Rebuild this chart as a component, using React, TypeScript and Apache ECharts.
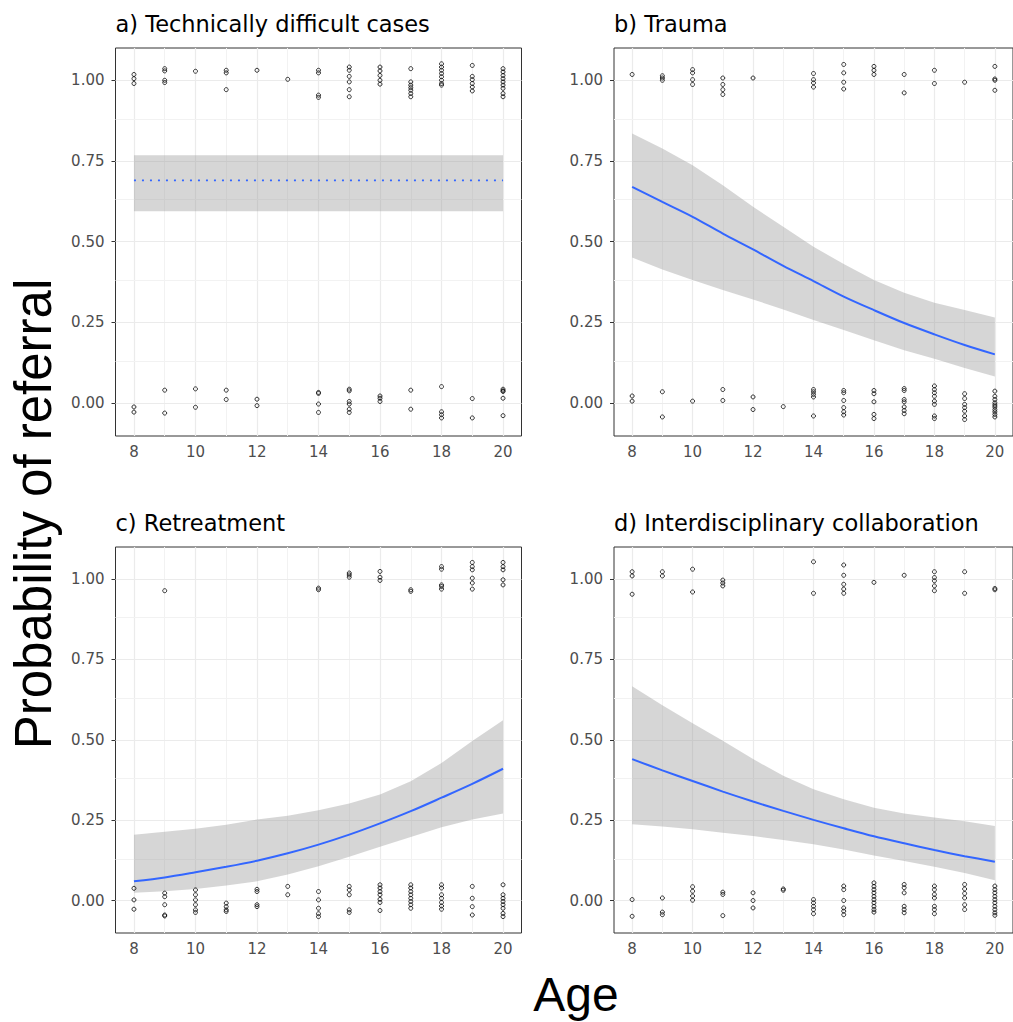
import React, { useEffect, useRef } from "react";
import * as echarts from "echarts";

// ---------- data ----------
const AGES = [8, 9, 10, 11, 12, 13, 14, 15, 16, 17, 18, 19, 20];
const AGES_A = [8, 20];
const X_TICKS = [8, 10, 12, 14, 16, 18, 20];
const X_MINOR = [9, 11, 13, 15, 17, 19];
const Y_TICKS = [0, 0.25, 0.5, 0.75, 1];
const Y_MINOR = [0.125, 0.375, 0.625, 0.875];

const TITLES = [
  "a) Technically difficult cases",
  "b) Trauma",
  "c) Retreatment",
  "d) Interdisciplinary collaboration",
];
const X_TITLE = "Age";
const Y_TITLE = "Probability of referral";

// fitted probability and 95% band
const FIT_A = [0.69, 0.69];
const UPPER_A = [0.768, 0.768];
const LOWER_A = [0.594, 0.594];

const FIT_B = [0.67, 0.623, 0.577, 0.525, 0.476, 0.425, 0.378, 0.33, 0.288, 0.248, 0.213, 0.18, 0.151];
const UPPER_B = [0.835, 0.789, 0.737, 0.675, 0.608, 0.546, 0.484, 0.431, 0.381, 0.342, 0.311, 0.288, 0.265];
const LOWER_B = [0.451, 0.414, 0.381, 0.35, 0.321, 0.29, 0.257, 0.226, 0.195, 0.164, 0.137, 0.109, 0.082];

const FIT_C = [0.06, 0.072, 0.088, 0.105, 0.124, 0.147, 0.174, 0.205, 0.24, 0.278, 0.32, 0.363, 0.41];
const UPPER_C = [0.205, 0.214, 0.223, 0.236, 0.252, 0.264, 0.281, 0.302, 0.33, 0.371, 0.428, 0.496, 0.561];
const LOWER_C = [0.024, 0.029, 0.036, 0.047, 0.06, 0.081, 0.107, 0.136, 0.167, 0.198, 0.228, 0.252, 0.271];

const FIT_D = [0.44, 0.405, 0.372, 0.339, 0.308, 0.279, 0.251, 0.225, 0.2, 0.178, 0.157, 0.138, 0.121];
const UPPER_D = [0.667, 0.608, 0.552, 0.497, 0.44, 0.388, 0.346, 0.315, 0.289, 0.271, 0.258, 0.247, 0.232];
const LOWER_D = [0.237, 0.23, 0.222, 0.211, 0.201, 0.188, 0.175, 0.159, 0.14, 0.123, 0.105, 0.086, 0.063];

// jittered observations: [age, [y values]]
const POINTS_A: [number, number[]][] = [
  [8, [1.018, 1.005, 0.99, -0.012, -0.028]],
  [9, [1.036, 1.029, 1.0, 0.993, 0.04, -0.031]],
  [10, [1.028, 0.044, -0.013]],
  [11, [1.031, 1.023, 0.971, 0.04, 0.011]],
  [12, [1.031, 0.012, -0.008]],
  [13, [1.003]],
  [14, [1.031, 1.023, 0.954, 0.947, 0.033, 0.03, -0.003, -0.029]],
  [15, [1.041, 1.031, 1.012, 0.995, 0.971, 0.949, 0.043, 0.038, 0.005, -0.003, -0.019, -0.029]],
  [16, [1.041, 1.029, 1.015, 1.0, 0.988, 0.022, 0.015, 0.005]],
  [17, [1.036, 0.995, 0.985, 0.977, 0.969, 0.959, 0.949, 0.04, -0.019]],
  [18, [1.051, 1.041, 1.031, 1.021, 1.011, 1.0, 0.99, 0.985, 0.051, -0.027, -0.036, -0.046]],
  [19, [1.046, 1.012, 1.002, 0.99, 0.979, 0.967, 0.014, -0.046]],
  [20, [1.036, 1.026, 1.015, 1.005, 0.995, 0.985, 0.975, 0.959, 0.949, 0.043, 0.038, 0.036, 0.015, -0.039]],
];
const POINTS_B: [number, number[]][] = [
  [8, [1.018, 0.022, 0.006]],
  [9, [1.014, 1.007, 1.0, 0.035, -0.043]],
  [10, [1.033, 1.023, 1.002, 0.987, 0.006]],
  [11, [1.007, 0.987, 0.971, 0.956, 0.042, 0.008]],
  [12, [1.007, 0.019, -0.02]],
  [13, [-0.011]],
  [14, [1.021, 1.002, 0.992, 0.979, 0.042, 0.035, 0.027, 0.019, -0.04]],
  [15, [1.049, 1.023, 0.994, 0.973, 0.039, 0.032, 0.008, -0.014, -0.027, -0.037]],
  [16, [1.043, 1.031, 1.018, 0.039, 0.029, 0.004, -0.035, -0.048]],
  [17, [1.018, 0.961, 0.045, 0.039, 0.011, 0.004, -0.012, -0.023, -0.033]],
  [18, [1.031, 0.99, 0.053, 0.042, 0.032, 0.021, 0.006, -0.004, -0.04, -0.048]],
  [19, [0.994, 0.029, 0.014, -0.004, -0.014, -0.025, -0.04, -0.051]],
  [20, [1.043, 1.004, 1.0, 0.969, 0.037, 0.021, 0.011, 0.001, -0.006, -0.012, -0.02, -0.027, -0.035, -0.043]],
];
const POINTS_C: [number, number[]][] = [
  [8, [0.038, 0.002, -0.027]],
  [9, [0.964, 0.023, 0.012, -0.013, -0.045, -0.048]],
  [10, [0.033, 0.018, 0.002, -0.013, -0.029, -0.037]],
  [11, [-0.008, -0.019, -0.029, -0.034]],
  [12, [0.035, 0.028, -0.013, -0.019]],
  [13, [0.044, 0.018]],
  [14, [0.972, 0.967, 0.028, 0.002, -0.024, -0.041, -0.05]],
  [15, [1.019, 1.013, 1.006, 0.044, 0.033, 0.018, -0.029, -0.037]],
  [16, [1.024, 1.006, 0.996, 0.049, 0.039, 0.028, 0.018, 0.004, -0.006, -0.031]],
  [17, [0.967, 0.962, 0.049, 0.039, 0.028, 0.018, 0.007, -0.003, -0.013, -0.024]],
  [18, [1.039, 1.031, 0.982, 0.977, 0.969, 0.049, 0.039, 0.018, 0.007, -0.006, -0.017, -0.027]],
  [19, [1.052, 1.039, 1.029, 1.003, 0.988, 0.969, 0.044, 0.007, -0.019, -0.045]],
  [20, [1.052, 1.039, 1.029, 0.998, 0.982, 0.049, 0.018, 0.007, -0.003, -0.013, -0.024, -0.04, -0.05]],
];
const POINTS_D: [number, number[]][] = [
  [8, [1.023, 1.01, 0.953, 0.003, -0.049]],
  [9, [1.023, 1.01, 0.008, -0.036, -0.044]],
  [10, [1.031, 0.96, 0.043, 0.029, 0.014, 0.001]],
  [11, [0.997, 0.988, 0.979, 0.026, 0.019, -0.047]],
  [12, [0.024, 0.0, -0.023]],
  [13, [0.036, 0.032]],
  [14, [1.054, 0.956, 0.003, -0.007, -0.018, -0.028, -0.041]],
  [15, [1.044, 1.012, 0.984, 0.969, 0.956, 0.045, 0.034, 0.0, -0.023, -0.033, -0.044]],
  [16, [0.99, 0.055, 0.044, 0.034, 0.024, 0.013, 0.003, -0.007, -0.018, -0.028, -0.036]],
  [17, [1.012, 0.05, 0.04, 0.024, -0.018, -0.028, -0.038]],
  [18, [1.023, 1.005, 0.995, 0.979, 0.964, 0.045, 0.034, 0.019, 0.008, -0.018, -0.028, -0.041]],
  [19, [1.023, 0.956, 0.05, 0.036, 0.022, 0.008, -0.013, -0.028]],
  [20, [0.971, 0.967, 0.045, 0.034, 0.024, 0.013, 0.003, -0.007, -0.018, -0.028, -0.038, -0.046]],
];

// ---------- layout / style ----------
const SMALL_FONT = "DejaVu Sans";
const BIG_FONT = "Liberation Sans";
const BLUE = "#3366FF";

const PANELS = [
  { grid: { left: 115.5, top: 48, width: 406, height: 388 }, yMin: -0.102, yMax: 1.1, ages: AGES_A, fit: FIT_A, upper: UPPER_A, lower: LOWER_A, points: POINTS_A, dotted: true },
  { grid: { left: 614, top: 48, width: 407, height: 388 }, yMin: -0.102, yMax: 1.1, ages: AGES, fit: FIT_B, upper: UPPER_B, lower: LOWER_B, points: POINTS_B, dotted: false },
  { grid: { left: 115.5, top: 547, width: 406, height: 386 }, yMin: -0.101, yMax: 1.1, ages: AGES, fit: FIT_C, upper: UPPER_C, lower: LOWER_C, points: POINTS_C, dotted: false },
  { grid: { left: 614, top: 547, width: 407, height: 386 }, yMin: -0.101, yMax: 1.1, ages: AGES, fit: FIT_D, upper: UPPER_D, lower: LOWER_D, points: POINTS_D, dotted: false },
];

function buildOption() {
  const grids = PANELS.map((p) => ({
    ...p.grid,
    show: true,
    borderColor: "#333333",
    borderWidth: 1,
    backgroundColor: "transparent",
    containLabel: false,
  }));

  const tickStyle = { show: true, length: 4, lineStyle: { color: "#333333", width: 1 } };
  const labelStyle = { color: "#4d4d4d", fontFamily: SMALL_FONT, fontSize: 15 };

  const xAxes = PANELS.map((_, i) => ({
    type: "value",
    gridIndex: i,
    min: 7.4,
    max: 20.6,
    axisLine: { show: false },
    splitLine: { show: false },
    axisTick: { ...tickStyle, customValues: X_TICKS },
    axisLabel: { ...labelStyle, margin: 8, customValues: X_TICKS, formatter: (v: number) => String(v) },
  }));
  const yAxes = PANELS.map((p, i) => ({
    type: "value",
    gridIndex: i,
    min: p.yMin,
    max: p.yMax,
    axisLine: { show: false },
    splitLine: { show: false },
    axisTick: { ...tickStyle, customValues: Y_TICKS },
    axisLabel: { ...labelStyle, margin: 11, customValues: Y_TICKS, formatter: (v: number) => v.toFixed(2) },
  }));

  const gridLineData = [
    ...X_TICKS.map((v) => ({ xAxis: v, lineStyle: { color: "#ebebeb", width: 1.2, type: "solid" } })),
    ...X_MINOR.map((v) => ({ xAxis: v, lineStyle: { color: "#f2f2f2", width: 1, type: "solid" } })),
    ...Y_TICKS.map((v) => ({ yAxis: v, lineStyle: { color: "#ebebeb", width: 1.2, type: "solid" } })),
    ...Y_MINOR.map((v) => ({ yAxis: v, lineStyle: { color: "#f2f2f2", width: 1, type: "solid" } })),
  ];

  const series: any[] = [];
  PANELS.forEach((p, i) => {
    const ages = p.ages;
    const upper = p.upper;
    const lower = p.lower;
    series.push({
      type: "custom",
      xAxisIndex: i,
      yAxisIndex: i,
      z: 3,
      silent: true,
      data: [[ages[0], lower[0]]],
      renderItem: (params: any, api: any) => {
        if (params.dataIndex !== 0) return null;
        const pts: number[][] = [];
        for (let k = 0; k < ages.length; k++) pts.push(api.coord([ages[k], upper[k]]));
        for (let k = ages.length - 1; k >= 0; k--) pts.push(api.coord([ages[k], lower[k]]));
        return {
          type: "polygon",
          shape: { points: pts, smooth: 0 },
          style: { fill: "rgba(153,153,153,0.4)", stroke: "none" },
        };
      },
    });
    series.push({
      type: "line",
      xAxisIndex: i,
      yAxisIndex: i,
      z: 4,
      silent: true,
      symbol: "none",
      smooth: p.dotted ? false : 0.3,
      data: ages.map((a, k) => [a, p.fit[k]]),
      lineStyle: { color: BLUE, width: p.dotted ? 1.8 : 2, type: p.dotted ? [2, 6] : "solid" },
    });
    const pts: number[][] = [];
    p.points.forEach(([age, ys]) => ys.forEach((y) => pts.push([age, y])));
    series.push({
      type: "scatter",
      xAxisIndex: i,
      yAxisIndex: i,
      z: 5,
      silent: true,
      symbol: "circle",
      symbolSize: 4,
      data: pts,
      itemStyle: { color: "rgba(0,0,0,0)", borderColor: "#000000", borderWidth: 0.8, opacity: 1 },
      markLine: {
        silent: true,
        z: 1,
        symbol: ["none", "none"],
        label: { show: false },
        animation: false,
        data: gridLineData,
      },
    });
  });

  return {
    animation: false,
    backgroundColor: "#ffffff",
    title: PANELS.map((p, i) => ({
      text: TITLES[i],
      left: p.grid.left,
      top: p.grid.top - 36,
      padding: 0,
      textStyle: { fontFamily: SMALL_FONT, fontSize: 22.5, fontWeight: "normal", color: "#000000" },
    })),
    grid: grids,
    xAxis: xAxes,
    yAxis: yAxes,
    series,
    graphic: [
      {
        type: "text",
        x: 33,
        y: 514,
        rotation: Math.PI / 2,
        style: { text: Y_TITLE, fontFamily: BIG_FONT, fontSize: 51, fill: "#000000", align: "center", verticalAlign: "middle" },
      },
      {
        type: "text",
        x: 576,
        y: 994,
        style: { text: X_TITLE, fontFamily: BIG_FONT, fontSize: 48, fill: "#000000", align: "center", verticalAlign: "middle" },
      },
    ],
  };
}

export default function App() {
  const ref = useRef<HTMLDivElement>(null);
  useEffect(() => {
    if (!ref.current) return;
    const chart = echarts.init(ref.current, null, { renderer: "svg" });
    chart.setOption(buildOption() as any);
    return () => chart.dispose();
  }, []);
  return (
    <div
      ref={ref}
      style={{ position: "absolute", left: 0, top: 0, width: 1013, height: 1022, background: "#ffffff" }}
    />
  );
}
